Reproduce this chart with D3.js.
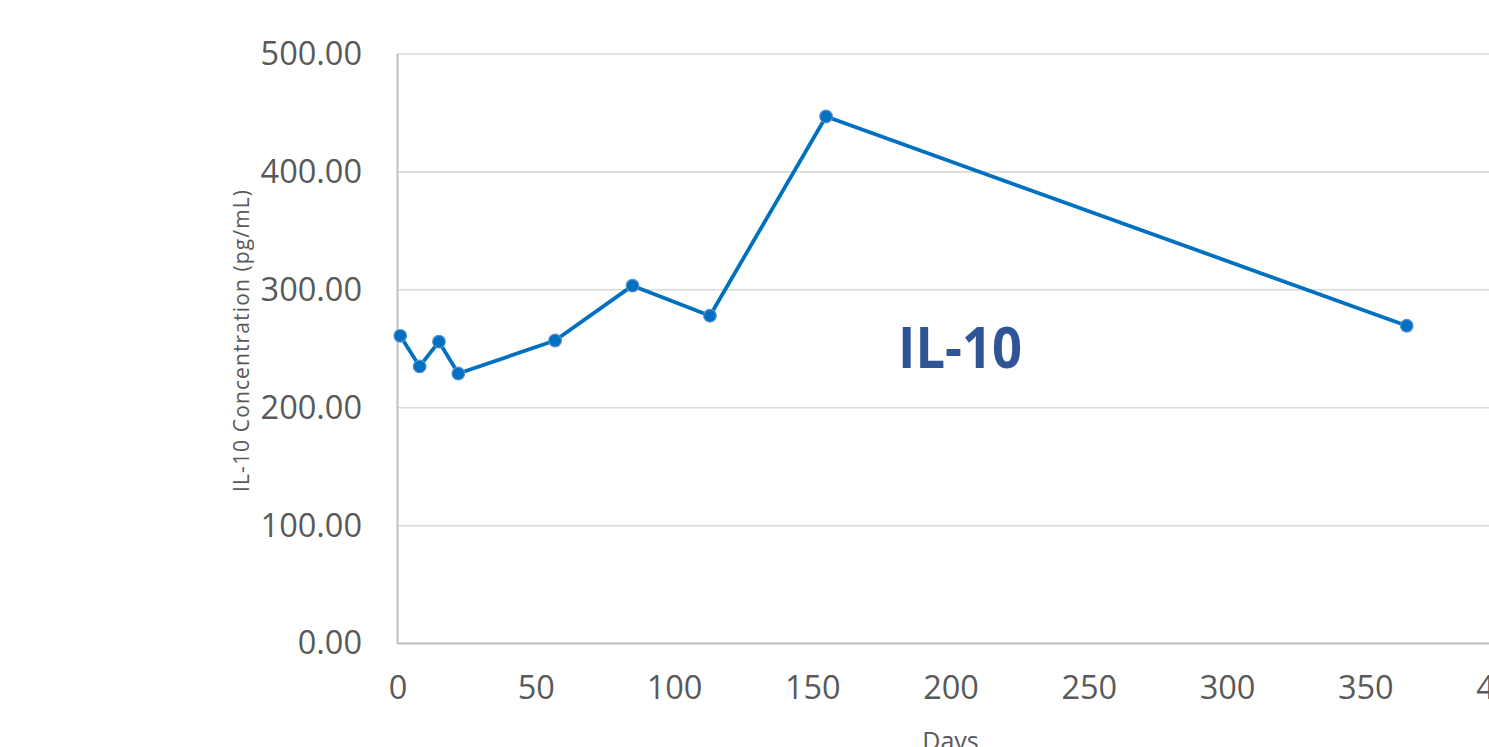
<!DOCTYPE html>
<html>
<head>
<meta charset="utf-8">
<script src="https://cdn.jsdelivr.net/npm/d3@7"></script>
<style>
  html, body { margin: 0; padding: 0; background: #ffffff; overflow: hidden; }
  svg { display: block; }
</style>
</head>
<body>
<svg id="chart" width="1489" height="747"></svg>
<script>
// IL-10 concentration measured over time
const days = [1, 8, 15, 22, 57, 85, 113, 155, 365];
const concentration = [261, 235, 256, 229, 257, 303.5, 278, 447, 269.5];
const xTicks = [0, 50, 100, 150, 200, 250, 300, 350, 400];
const yTicks = [0, 100, 200, 300, 400, 500];

const chartTitle = "IL-10";
const xTitle = "Days";
const yTitle = "IL-10 Concentration (pg/mL)";

const svg = d3.select("#chart");
const plot = { left: 397.5, right: 1503.5, top: 54, bottom: 643.5 };

const x = d3.scaleLinear().domain([0, 400]).range([plot.left, plot.right]);
const y = d3.scaleLinear().domain([0, 500]).range([plot.bottom, plot.top]);

const font = "'Open Sans', 'Segoe UI', sans-serif";
const textColor = "#595959";

// horizontal gridlines
svg.append("g")
  .selectAll("line")
  .data(yTicks.filter(d => d > 0))
  .join("line")
  .attr("x1", plot.left).attr("x2", plot.right)
  .attr("y1", d => y(d)).attr("y2", d => y(d))
  .attr("stroke", "#d9d9d9").attr("stroke-width", 1.6);

// axis lines
svg.append("line")
  .attr("x1", plot.left).attr("x2", plot.left)
  .attr("y1", plot.top).attr("y2", plot.bottom)
  .attr("stroke", "#bfbfbf").attr("stroke-width", 2);
svg.append("line")
  .attr("x1", plot.left).attr("x2", plot.right)
  .attr("y1", plot.bottom).attr("y2", plot.bottom)
  .attr("stroke", "#bfbfbf").attr("stroke-width", 2);

// y tick labels
const yAxis = d3.axisLeft(y).tickValues(yTicks).tickFormat(d3.format(".2f")).tickSize(0).tickPadding(35.5);
const gy = svg.append("g").attr("transform", `translate(${plot.left},0)`).call(yAxis);
gy.select(".domain").remove();
gy.selectAll("text")
  .attr("fill", textColor)
  .style("font-family", font)
  .style("font-size", "32.5px");

// x tick labels
const xAxis = d3.axisBottom(x).tickValues(xTicks).tickFormat(d3.format("d")).tickSize(0).tickPadding(32);
const gx = svg.append("g").attr("transform", `translate(0,${plot.bottom})`).call(xAxis);
gx.select(".domain").remove();
gx.selectAll("text")
  .attr("fill", textColor)
  .style("font-family", font)
  .style("font-size", "32.5px");

// axis titles
svg.append("text")
  .attr("x", (plot.left + plot.right) / 2)
  .attr("y", 750)
  .attr("text-anchor", "middle")
  .attr("fill", textColor)
  .style("font-family", font)
  .style("font-size", "25px")
  .text(xTitle);

svg.append("text")
  .attr("transform", `translate(249,341) rotate(-90)`)
  .attr("text-anchor", "middle")
  .attr("fill", textColor)
  .attr("textLength", 302)
  .attr("lengthAdjust", "spacing")
  .style("font-family", font)
  .style("font-size", "21px")
  .text(yTitle);

// data line
const pts = days.map((d, i) => [d, concentration[i]]);
svg.append("path")
  .datum(pts)
  .attr("fill", "none")
  .attr("stroke", "#0070c0")
  .attr("stroke-width", 3.8)
  .attr("stroke-linejoin", "round")
  .attr("d", d3.line().x(d => x(d[0])).y(d => y(d[1])));

svg.append("g")
  .selectAll("circle")
  .data(pts)
  .join("circle")
  .attr("cx", d => x(d[0]))
  .attr("cy", d => y(d[1]))
  .attr("r", 6.3)
  .attr("fill", "#0070c0")
  .attr("stroke", "#5a8fd3")
  .attr("stroke-width", 1.2);

// series label
svg.append("text")
  .attr("x", 960)
  .attr("y", 368)
  .attr("text-anchor", "middle")
  .attr("fill", "#2f5597")
  .attr("textLength", 124)
  .attr("lengthAdjust", "spacingAndGlyphs")
  .style("font-family", font)
  .style("font-weight", "bold")
  .style("font-size", "58px")
  .text(chartTitle);
</script>
</body>
</html>
